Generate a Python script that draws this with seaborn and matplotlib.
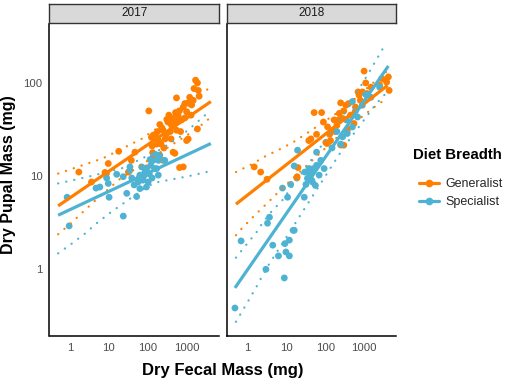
import numpy as np
import pandas as pd
import matplotlib
matplotlib.use("Agg")
import matplotlib.pyplot as plt
import seaborn as sns
from matplotlib.lines import Line2D
from matplotlib.ticker import FixedLocator, FixedFormatter, NullLocator

sns.set_theme(style="white")
plt.rcParams["font.family"] = ["Liberation Sans", "DejaVu Sans"]

years = ["2017", "2018"]
groups = ["Generalist", "Specialist"]
palette = {"Generalist": "#FF7F00", "Specialist": "#4EB3D3"}

x_ticks = [1, 10, 100, 1000]
x_tick_labels = ["1", "10", "100", "1000"]
y_ticks = [1, 10, 100]
y_tick_labels = ["1", "10", "100"]

# ---------------- points (dry fecal mass, dry pupal mass; mg) ----------------
gen17_fecal = [1700, 1900, 1550, 2100, 2000, 550, 1480, 1100, 820, 1350, 107, 1000, 610,
               310, 740, 205, 410, 1900, 250, 550, 140, 1100, 125, 1000, 18, 47, 500, 9.7,
               820, 1.7, 8.7, 3.6, 32, 8, 93, 134, 250, 450, 660, 38, 180, 300, 400, 220,
               350, 480, 650, 900, 170, 260, 700, 130, 160, 230, 330, 420, 520, 280, 190,
               600, 380, 900, 1200, 1300]
gen17_pupal = [107, 100, 87, 72, 83, 69, 65, 61, 55, 58, 50, 49, 44,
               40.5, 40, 35.7, 35, 32, 31, 31, 27.5, 25, 26, 24, 18.4, 18, 17.5, 13.6,
               12.5, 11, 10.6, 8.6, 11, 10.9, 12.2, 17.8, 14.7, 18, 12.3, 14.7, 30, 28, 25, 22,
               45, 38, 50, 42, 22, 20, 30, 21, 28, 33, 38, 42, 48, 25, 24,
               40, 30, 60, 70, 45]

spe17_fecal = [0.85, 0.96, 4.7, 8.8, 10.2, 16, 23.6, 29, 52, 57, 63, 85, 103, 93, 138,
               170, 187, 205, 275, 35, 39, 76, 63, 138, 190, 90, 23.5, 35, 9.7, 5.9, 120,
               60, 45, 110, 100, 130, 150, 80, 70, 115, 160]
spe17_pupal = [5.9, 2.9, 7.4, 9.5, 5.9, 10.4, 3.7, 6.5, 6.0, 8.6, 10.2, 11, 8.6, 7.6, 14.7,
               12, 10.2, 16.7, 14.7, 11.5, 9.5, 9.0, 7.3, 16, 14.7, 12, 9.8, 12.5, 8.3, 7.6, 13,
               9.5, 8, 10.5, 11, 9.5, 12, 10, 12.5, 15, 17]

gen18_fecal = [1000, 4200, 3800, 4400, 910, 1200, 740, 52, 81, 250, 340, 230, 170, 280,
               115, 155, 370, 550, 43, 38, 137, 300, 112, 1.5, 2.2, 19, 20, 18.7, 104, 250,
               600, 800, 450, 200, 130, 1500, 2500, 60, 90, 3.2, 300, 400, 220, 180, 700,
               1100, 3000]
gen18_pupal = [134, 116, 102, 83, 80, 77, 74, 48, 48, 61, 57.5, 47, 40, 41.5,
               33.7, 31, 31, 36.6, 25, 24, 24, 21.4, 22.3, 12.5, 11, 9.8, 12.3, 9.5, 22.9, 21.5,
               55, 65, 45, 35, 28, 90, 95, 28, 38, 9.2, 50, 60, 40, 30, 80,
               100, 110]

spe18_fecal = [19.5, 16, 39, 43, 35, 47, 56, 32, 70, 77, 94, 8.0, 13, 10.8, 29, 3.7, 3.3,
               16, 0.69, 4.5, 6.3, 12, 9.2, 12, 9.8, 3.0, 8.9, 0.48, 15, 500, 680, 500, 370,
               900, 280, 150, 200, 60, 1500, 2500, 40, 50, 30, 60, 45, 350, 600, 1100, 250]
spe18_pupal = [18.9, 12.8, 12, 10.6, 9.4, 8.6, 7.9, 8.1, 10.2, 14.7, 12, 7.4, 8.1, 5.9, 5.9,
               3.6, 3.1, 2.6, 2.0, 1.8, 1.38, 1.38, 1.87, 2.04, 1.52, 0.99, 0.8, 0.38, 2.6, 63,
               43, 33.6, 28.6, 57.5, 26.3, 20, 30, 18, 70, 90, 10, 12, 11, 13, 9, 40, 50, 75, 22]

# ---------------- fitted lines and interval bands ----------------
gen17_fit_x = [0.5, 4200]
gen17_fit_y = [4.76, 63]
gen17_hi_x = [0.5, 1.0, 7.2, 69, 300, 1000, 4000]
gen17_hi_y = [10.6, 11.7, 15.5, 25, 38, 55, 90]
gen17_lo_x = [0.5, 1.05, 2.1, 4.4, 19.5, 300, 1800, 4000]
gen17_lo_y = [2.36, 3.08, 4.04, 5.4, 9.3, 19.7, 32, 42]

spe17_fit_x = [0.5, 4200]
spe17_fit_y = [3.78, 22.3]
spe17_hi_x = [0.5, 1.35, 3.6, 21, 200, 650, 1350, 2800, 4200]
spe17_hi_y = [8.3, 9.1, 10, 12, 19, 26, 33.6, 44, 50]
spe17_lo_x = [0.5, 1.1, 2.45, 4.9, 10.7, 102, 186, 500, 1200, 3200, 4200]
spe17_lo_y = [1.47, 1.86, 2.4, 3.1, 4.0, 7.8, 8.6, 9.3, 10, 11, 11.2]

gen18_fit_x = [0.51, 4000]
gen18_fit_y = [4.97, 94]
gen18_hi_x = [0.51, 1.23, 3.0, 7.1, 16, 38, 316, 1600, 4000]
gen18_hi_y = [11, 13.2, 16.4, 19.5, 23.4, 29.7, 54, 98, 135]
gen18_lo_x = [0.51, 0.69, 1.38, 3.9, 8.0, 316, 2400, 4000]
gen18_lo_y = [2.3, 2.67, 3.6, 5.5, 7.4, 31, 60, 68]

spe18_fit_x = [0.48, 4200]
spe18_fit_y = [0.625, 152]
spe18_hi_x = [0.51, 0.69, 1.74, 2.24, 4.1, 8.0, 316, 1820, 3700]
spe18_hi_y = [1.32, 1.55, 2.5, 2.95, 4.1, 5.5, 47, 162, 270]
spe18_lo_x = [0.51, 1.07, 1.74, 2.2, 3.5, 316, 2000, 3500]
spe18_lo_y = [0.27, 0.457, 0.65, 0.78, 1.1, 21, 59, 76]

# ---------------- assemble tables ----------------
point_sets = [
    ("2017", "Generalist", gen17_fecal, gen17_pupal),
    ("2017", "Specialist", spe17_fecal, spe17_pupal),
    ("2018", "Generalist", gen18_fecal, gen18_pupal),
    ("2018", "Specialist", spe18_fecal, spe18_pupal),
]
pts = pd.concat([pd.DataFrame({"year": y, "group": g, "fecal": fx, "pupal": py})
                 for y, g, fx, py in point_sets], ignore_index=True)

line_sets = [
    ("2017", "Generalist", "fit", gen17_fit_x, gen17_fit_y),
    ("2017", "Generalist", "hi", gen17_hi_x, gen17_hi_y),
    ("2017", "Generalist", "lo", gen17_lo_x, gen17_lo_y),
    ("2017", "Specialist", "fit", spe17_fit_x, spe17_fit_y),
    ("2017", "Specialist", "hi", spe17_hi_x, spe17_hi_y),
    ("2017", "Specialist", "lo", spe17_lo_x, spe17_lo_y),
    ("2018", "Generalist", "fit", gen18_fit_x, gen18_fit_y),
    ("2018", "Generalist", "hi", gen18_hi_x, gen18_hi_y),
    ("2018", "Generalist", "lo", gen18_lo_x, gen18_lo_y),
    ("2018", "Specialist", "fit", spe18_fit_x, spe18_fit_y),
    ("2018", "Specialist", "hi", spe18_hi_x, spe18_hi_y),
    ("2018", "Specialist", "lo", spe18_lo_x, spe18_lo_y),
]
lines = pd.concat([pd.DataFrame({"year": y, "group": g, "kind": k, "x": lx, "y": ly})
                   for y, g, k, lx, ly in line_sets], ignore_index=True)

# ---------------- figure ----------------
W, H = 510, 381
fig = plt.figure(figsize=(W / 100, H / 100), dpi=100)
fig.patch.set_facecolor("white")

panel_left = [49.5, 227]
panel_w = 169.5
panel_top, panel_bot = 24, 336

for i, yr in enumerate(years):
    ax = fig.add_axes([panel_left[i] / W, 1 - panel_bot / H, panel_w / W,
                       (panel_bot - panel_top) / H])
    ax.set_facecolor("white")
    ax.set_xscale("log")
    ax.set_yscale("log")
    sub = pts[pts.year == yr]
    sns.scatterplot(data=sub, x="fecal", y="pupal", hue="group", hue_order=groups,
                    palette=palette, s=24, linewidth=0, alpha=1, legend=False, ax=ax,
                    zorder=2)
    for g in groups:
        for kind in ["lo", "hi"]:
            d = lines[(lines.year == yr) & (lines.group == g) & (lines.kind == kind)]
            sns.lineplot(data=d, x="x", y="y", sort=False, estimator=None, ax=ax,
                         color=palette[g], linewidth=1.6, linestyle=(0, (0.1, 3.6)),
                         dash_capstyle="round", legend=False, zorder=3)
    for g in groups:
        d = lines[(lines.year == yr) & (lines.group == g) & (lines.kind == "fit")]
        sns.lineplot(data=d, x="x", y="y", sort=False, estimator=None, ax=ax,
                     color=palette[g], linewidth=2.3, legend=False, zorder=4,
                     solid_capstyle="butt")
    ax.set_xlim(0.3, 6800)
    ax.set_ylim(0.19, 430)
    ax.xaxis.set_major_locator(FixedLocator(x_ticks))
    ax.xaxis.set_major_formatter(FixedFormatter(x_tick_labels))
    ax.xaxis.set_minor_locator(NullLocator())
    ax.yaxis.set_major_locator(FixedLocator(y_ticks))
    ax.yaxis.set_minor_locator(NullLocator())
    if i == 0:
        ax.yaxis.set_major_formatter(FixedFormatter(y_tick_labels))
    else:
        ax.yaxis.set_major_formatter(FixedFormatter(["", "", ""]))
    ax.set_xlabel("")
    ax.set_ylabel("")
    for s in ["top", "right"]:
        ax.spines[s].set_visible(False)
    for s in ["left", "bottom"]:
        ax.spines[s].set_color("black")
        ax.spines[s].set_linewidth(1.1)
    ax.tick_params(axis="both", which="major", direction="out", length=3, width=0.8,
                   color="#333333", labelsize=8.2, labelcolor="#4D4D4D", pad=2)
    ax.grid(False)

    # facet strip
    sax = fig.add_axes([panel_left[i] / W, 1 - 23 / H, panel_w / W, 19.5 / H])
    sax.set_facecolor("#D9D9D9")
    sax.set_xticks([])
    sax.set_yticks([])
    for s in sax.spines.values():
        s.set_color("#333333")
        s.set_linewidth(1.0)
    sax.text(0.5, 0.5, yr, ha="center", va="center", fontsize=8.5, color="#1A1A1A",
             transform=sax.transAxes)

fig.text(223 / W, 1 - 370 / H, "Dry Fecal Mass (mg)", ha="center", va="center",
         fontsize=12, fontweight="bold", color="black")
fig.text(9 / W, 1 - 175 / H, "Dry Pupal Mass (mg)", ha="center", va="center",
         rotation=90, fontsize=11.5, fontweight="bold", color="black")

# legend
fig.text(413 / W, 1 - 155 / H, "Diet Breadth", ha="left", va="center",
         fontsize=10.8, fontweight="bold", color="black")
handles = [Line2D([0], [0], color=palette[g], linewidth=2.3, marker="o", markersize=4.5)
           for g in groups]
leg = fig.legend(handles, groups, loc="upper left",
                 bbox_to_anchor=(419 / W, 1 - 178 / H), frameon=False, fontsize=9,
                 handlelength=1.6, handletextpad=0.55, labelspacing=0.5,
                 borderpad=0, borderaxespad=0)

fig.savefig("out.png", dpi=100)
